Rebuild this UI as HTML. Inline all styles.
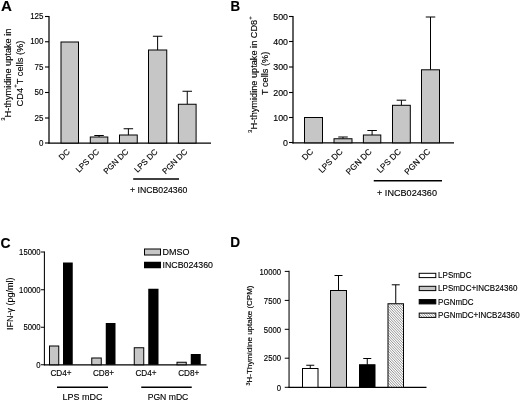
<!DOCTYPE html>
<html><head><meta charset="utf-8"><title>Figure</title>
<style>
html,body{margin:0;padding:0;background:#fff;}
body{width:520px;height:401px;overflow:hidden;}
svg{display:block;font-family:"Liberation Sans", Arial, sans-serif;fill:#000;} text{stroke:#000;stroke-width:0.14px;}
</style></head><body>
<svg width="520" height="401" viewBox="0 0 520 401">
<rect width="520" height="401" fill="#fff" stroke="none"/>
<text font-size="14.8" text-anchor="start" font-weight="bold" transform="translate(0.9 10.9) scale(1.02 1)">A</text>
<line x1="49" y1="16" x2="49" y2="143.62" stroke="#000" stroke-width="1.25"/>
<line x1="48.38" y1="143" x2="211" y2="143" stroke="#000" stroke-width="1.25"/>
<line x1="45" y1="16.5" x2="49" y2="16.5" stroke="#000" stroke-width="1.1"/>
<text font-size="9.4" text-anchor="end" transform="translate(43.5 19.2) scale(0.85 1)">125</text>
<line x1="45" y1="41.75" x2="49" y2="41.75" stroke="#000" stroke-width="1.1"/>
<text font-size="9.4" text-anchor="end" transform="translate(43.5 44.45) scale(0.85 1)">100</text>
<line x1="45" y1="67" x2="49" y2="67" stroke="#000" stroke-width="1.1"/>
<text font-size="9.4" text-anchor="end" transform="translate(43.5 69.7) scale(0.85 1)">75</text>
<line x1="45" y1="92.5" x2="49" y2="92.5" stroke="#000" stroke-width="1.1"/>
<text font-size="9.4" text-anchor="end" transform="translate(43.5 95.2) scale(0.85 1)">50</text>
<line x1="45" y1="118" x2="49" y2="118" stroke="#000" stroke-width="1.1"/>
<text font-size="9.4" text-anchor="end" transform="translate(43.5 120.7) scale(0.85 1)">25</text>
<line x1="45" y1="143" x2="49" y2="143" stroke="#000" stroke-width="1.1"/>
<text font-size="9.4" text-anchor="end" transform="translate(43.5 145.7) scale(0.85 1)">0</text>
<rect x="61" y="42" width="17.5" height="101" fill="#c6c6c6" stroke="#000" stroke-width="1"/>
<text font-size="8.1" text-anchor="end" transform="translate(70.35 152.3) rotate(-45)">DC</text>
<line x1="99.05" y1="135.5" x2="99.05" y2="137" stroke="#000" stroke-width="1"/>
<line x1="94.3" y1="135.5" x2="103.8" y2="135.5" stroke="#000" stroke-width="1"/>
<rect x="90.3" y="137" width="17.5" height="6" fill="#c6c6c6" stroke="#000" stroke-width="1"/>
<text font-size="8.1" text-anchor="end" transform="translate(99.65 152.3) rotate(-45)">LPS DC</text>
<line x1="128.38" y1="128.75" x2="128.38" y2="135" stroke="#000" stroke-width="1"/>
<line x1="123.62" y1="128.75" x2="133.12" y2="128.75" stroke="#000" stroke-width="1"/>
<rect x="119.5" y="135" width="17.75" height="8" fill="#c6c6c6" stroke="#000" stroke-width="1"/>
<text font-size="8.1" text-anchor="end" transform="translate(128.97 152.3) rotate(-45)">PGN DC</text>
<line x1="157.62" y1="36.25" x2="157.62" y2="50" stroke="#000" stroke-width="1"/>
<line x1="152.88" y1="36.25" x2="162.38" y2="36.25" stroke="#000" stroke-width="1"/>
<rect x="148.5" y="50" width="18.25" height="93" fill="#c6c6c6" stroke="#000" stroke-width="1"/>
<text font-size="8.1" text-anchor="end" transform="translate(158.22 152.3) rotate(-45)">LPS DC</text>
<line x1="187.25" y1="91.25" x2="187.25" y2="104.25" stroke="#000" stroke-width="1"/>
<line x1="182.5" y1="91.25" x2="192" y2="91.25" stroke="#000" stroke-width="1"/>
<rect x="178.4" y="104.25" width="17.7" height="38.75" fill="#c6c6c6" stroke="#000" stroke-width="1"/>
<text font-size="8.1" text-anchor="end" transform="translate(187.85 152.3) rotate(-45)">PGN DC</text>
<line x1="133.2" y1="179" x2="179" y2="179" stroke="#000" stroke-width="1.6"/>
<text font-size="9.8" text-anchor="middle" transform="translate(158.7 193) scale(0.89 1)">+ INCB024360</text>
<text font-size="9.2" text-anchor="middle" transform="translate(10.5 74.7) rotate(-90)"><tspan font-size="6" dy="-5.5">3</tspan><tspan dy="5.5">H-thymidine uptake in</tspan></text>
<text font-size="9.3" text-anchor="middle" transform="translate(22.8 73.5) rotate(-90)">CD4<tspan font-size="6" dy="-5.5">+</tspan><tspan dy="5.5">T cells (%)</tspan></text>
<text font-size="14.8" text-anchor="start" font-weight="bold" transform="translate(230.6 10.9) scale(0.9 1)">B</text>
<line x1="293" y1="16" x2="293" y2="143.43" stroke="#000" stroke-width="1.25"/>
<line x1="292.38" y1="142.8" x2="454" y2="142.8" stroke="#000" stroke-width="1.25"/>
<line x1="289" y1="16.5" x2="293" y2="16.5" stroke="#000" stroke-width="1.1"/>
<text font-size="9" text-anchor="end" transform="translate(288 19.5) scale(0.98 1)">500</text>
<line x1="289" y1="41.5" x2="293" y2="41.5" stroke="#000" stroke-width="1.1"/>
<text font-size="9" text-anchor="end" transform="translate(288 44.5) scale(0.98 1)">400</text>
<line x1="289" y1="67" x2="293" y2="67" stroke="#000" stroke-width="1.1"/>
<text font-size="9" text-anchor="end" transform="translate(288 70) scale(0.98 1)">300</text>
<line x1="289" y1="92.5" x2="293" y2="92.5" stroke="#000" stroke-width="1.1"/>
<text font-size="9" text-anchor="end" transform="translate(288 95.5) scale(0.98 1)">200</text>
<line x1="289" y1="117.5" x2="293" y2="117.5" stroke="#000" stroke-width="1.1"/>
<text font-size="9" text-anchor="end" transform="translate(288 120.5) scale(0.98 1)">100</text>
<line x1="289" y1="142.5" x2="293" y2="142.5" stroke="#000" stroke-width="1.1"/>
<text font-size="9" text-anchor="end" transform="translate(288 145.5) scale(0.98 1)">0</text>
<rect x="304.5" y="117.5" width="18" height="25.3" fill="#c6c6c6" stroke="#000" stroke-width="1"/>
<text font-size="8.35" text-anchor="end" transform="translate(313.7 152.2) rotate(-45)">DC</text>
<line x1="343" y1="137" x2="343" y2="138.75" stroke="#000" stroke-width="1"/>
<line x1="338.25" y1="137" x2="347.75" y2="137" stroke="#000" stroke-width="1"/>
<rect x="334" y="138.75" width="18" height="4.05" fill="#c6c6c6" stroke="#000" stroke-width="1"/>
<text font-size="8.35" text-anchor="end" transform="translate(343.2 152.2) rotate(-45)">LPS DC</text>
<line x1="372.1" y1="130.5" x2="372.1" y2="135" stroke="#000" stroke-width="1"/>
<line x1="367.35" y1="130.5" x2="376.85" y2="130.5" stroke="#000" stroke-width="1"/>
<rect x="363.4" y="135" width="17.4" height="7.8" fill="#c6c6c6" stroke="#000" stroke-width="1"/>
<text font-size="8.35" text-anchor="end" transform="translate(372.3 152.2) rotate(-45)">PGN DC</text>
<line x1="401.4" y1="100.2" x2="401.4" y2="105.3" stroke="#000" stroke-width="1"/>
<line x1="396.65" y1="100.2" x2="406.15" y2="100.2" stroke="#000" stroke-width="1"/>
<rect x="392.5" y="105.3" width="17.8" height="37.5" fill="#c6c6c6" stroke="#000" stroke-width="1"/>
<text font-size="8.35" text-anchor="end" transform="translate(401.6 152.2) rotate(-45)">LPS DC</text>
<line x1="430.5" y1="17" x2="430.5" y2="69.8" stroke="#000" stroke-width="1"/>
<line x1="425.75" y1="17" x2="435.25" y2="17" stroke="#000" stroke-width="1"/>
<rect x="421.5" y="69.8" width="18" height="73" fill="#c6c6c6" stroke="#000" stroke-width="1"/>
<text font-size="8.35" text-anchor="end" transform="translate(430.7 152.2) rotate(-45)">PGN DC</text>
<line x1="373.75" y1="180.75" x2="442" y2="180.75" stroke="#000" stroke-width="1.6"/>
<text font-size="9.8" text-anchor="middle" transform="translate(407 196.3) scale(0.93 1)">+ INCB024360</text>
<text font-size="9.2" text-anchor="middle" transform="translate(257.2 74.6) rotate(-90)"><tspan font-size="6" dy="-5.5">3</tspan><tspan dy="5.5">H-thymidine uptake in CD8</tspan><tspan font-size="6" dy="-5.5">+</tspan></text>
<text font-size="9.2" text-anchor="middle" transform="translate(267.6 73.4) rotate(-90)">T cells (%)</text>
<text font-size="14.8" text-anchor="start" font-weight="bold" transform="translate(0.5 248) scale(0.94 1)">C</text>
<line x1="44.4" y1="251.5" x2="44.4" y2="365.27" stroke="#000" stroke-width="1.05"/>
<line x1="43.88" y1="364.85" x2="206.5" y2="364.85" stroke="#000" stroke-width="1.3"/>
<line x1="41" y1="252" x2="44.4" y2="252" stroke="#000" stroke-width="1.0"/>
<text font-size="8.5" text-anchor="end" transform="translate(40.6 254.8) scale(0.91 1)">15000</text>
<line x1="41" y1="289.75" x2="44.4" y2="289.75" stroke="#000" stroke-width="1.0"/>
<text font-size="8.5" text-anchor="end" transform="translate(40.6 292.55) scale(0.91 1)">10000</text>
<line x1="41" y1="327.25" x2="44.4" y2="327.25" stroke="#000" stroke-width="1.0"/>
<text font-size="8.5" text-anchor="end" transform="translate(40.6 330.05) scale(0.91 1)">5000</text>
<line x1="41" y1="364.75" x2="44.4" y2="364.75" stroke="#000" stroke-width="1.0"/>
<text font-size="8.5" text-anchor="end" transform="translate(40.6 367.55) scale(0.91 1)">0</text>
<rect x="49.5" y="346" width="9.25" height="18.75" fill="#c6c6c6" stroke="#000" stroke-width="1"/>
<rect x="63" y="262.5" width="9.75" height="102.25" fill="#000"/>
<rect x="91.75" y="358" width="9.5" height="6.75" fill="#c6c6c6" stroke="#000" stroke-width="1"/>
<rect x="105.75" y="323" width="9.75" height="41.75" fill="#000"/>
<rect x="134.25" y="347.75" width="9.5" height="17" fill="#c6c6c6" stroke="#000" stroke-width="1"/>
<rect x="148.25" y="288.75" width="10.25" height="76" fill="#000"/>
<rect x="177" y="362.25" width="9.25" height="2.5" fill="#c6c6c6" stroke="#000" stroke-width="1"/>
<rect x="190.75" y="354" width="10" height="10.75" fill="#000"/>
<text font-size="9.0" text-anchor="middle" transform="translate(61 375.6) scale(0.91 1)">CD4+</text>
<text font-size="9.0" text-anchor="middle" transform="translate(103.5 375.6) scale(0.91 1)">CD8+</text>
<text font-size="9.0" text-anchor="middle" transform="translate(146 375.6) scale(0.91 1)">CD4+</text>
<text font-size="9.0" text-anchor="middle" transform="translate(188.75 375.6) scale(0.91 1)">CD8+</text>
<line x1="57" y1="387.25" x2="108" y2="387.25" stroke="#000" stroke-width="1.6"/>
<line x1="141.25" y1="387.25" x2="191.75" y2="387.25" stroke="#000" stroke-width="1.6"/>
<text font-size="9.8" text-anchor="middle" transform="translate(82.5 400) scale(0.92 1)">LPS mDC</text>
<text font-size="9.8" text-anchor="middle" transform="translate(168 400) scale(0.88 1)">PGN mDC</text>
<text font-size="9" text-anchor="middle" transform="translate(13 303.7) rotate(-90)">IFN-γ (pg/ml)</text>
<rect x="144.5" y="249" width="16" height="6" fill="#c6c6c6" stroke="#000" stroke-width="1"/>
<text font-size="9.8" text-anchor="start" transform="translate(162.5 255.4) scale(0.92 1)">DMSO</text>
<rect x="144" y="261.75" width="17" height="6.5" fill="#000"/>
<text font-size="9.8" text-anchor="start" transform="translate(162.5 268.4) scale(0.9 1)">INCB024360</text>
<text font-size="14.8" text-anchor="start" font-weight="bold" transform="translate(230.3 247.1) scale(0.92 1)">D</text>
<line x1="289.05" y1="270.75" x2="289.05" y2="387.82" stroke="#000" stroke-width="1.05"/>
<line x1="288.53" y1="387.3" x2="426.5" y2="387.3" stroke="#000" stroke-width="1.2"/>
<line x1="284.75" y1="271.4" x2="289.05" y2="271.4" stroke="#000" stroke-width="1.0"/>
<text font-size="8.5" text-anchor="end" transform="translate(281.05 274.6) scale(0.91 1)">10000</text>
<line x1="284.75" y1="300.4" x2="289.05" y2="300.4" stroke="#000" stroke-width="1.0"/>
<text font-size="8.5" text-anchor="end" transform="translate(281.05 303.6) scale(0.91 1)">7500</text>
<line x1="284.75" y1="329.3" x2="289.05" y2="329.3" stroke="#000" stroke-width="1.0"/>
<text font-size="8.5" text-anchor="end" transform="translate(281.05 332.5) scale(0.91 1)">5000</text>
<line x1="284.75" y1="358.2" x2="289.05" y2="358.2" stroke="#000" stroke-width="1.0"/>
<text font-size="8.5" text-anchor="end" transform="translate(281.05 361.4) scale(0.91 1)">2500</text>
<line x1="284.75" y1="387.3" x2="289.05" y2="387.3" stroke="#000" stroke-width="1.0"/>
<text font-size="8.5" text-anchor="end" transform="translate(281.05 390.5) scale(0.91 1)">0</text>
<defs><filter id="hb" x="-5%" y="-5%" width="110%" height="110%"><feGaussianBlur stdDeviation="0.3"/></filter></defs>
<line x1="310.25" y1="365.25" x2="310.25" y2="368.5" stroke="#000" stroke-width="1"/>
<line x1="306.25" y1="365.25" x2="314.25" y2="365.25" stroke="#000" stroke-width="1"/>
<rect x="302.5" y="368.5" width="15.5" height="18.8" fill="#fff" stroke="#000" stroke-width="1"/>
<line x1="338.5" y1="275.5" x2="338.5" y2="290.5" stroke="#000" stroke-width="1"/>
<line x1="334.5" y1="275.5" x2="342.5" y2="275.5" stroke="#000" stroke-width="1"/>
<rect x="330.5" y="290.5" width="16" height="96.8" fill="#c6c6c6" stroke="#000" stroke-width="1"/>
<line x1="367.25" y1="358.5" x2="367.25" y2="364.75" stroke="#000" stroke-width="1"/>
<line x1="363.25" y1="358.5" x2="371.25" y2="358.5" stroke="#000" stroke-width="1"/>
<rect x="359.5" y="364.75" width="15.5" height="22.55" fill="#000" stroke="#000" stroke-width="1"/>
<line x1="395.75" y1="284.8" x2="395.75" y2="303.75" stroke="#000" stroke-width="1"/>
<line x1="391.75" y1="284.8" x2="399.75" y2="284.8" stroke="#000" stroke-width="1"/>
<clipPath id="hc1"><rect x="388" y="303.75" width="15.5" height="83.55"/></clipPath>
<rect x="388" y="303.75" width="15.5" height="83.55" fill="#fff"/>
<path d="M388 287.32L403.5 303.75M388 289.97L403.5 306.4M388 292.62L403.5 309.05M388 295.27L403.5 311.7M388 297.92L403.5 314.35M388 300.57L403.5 317M388 303.22L403.5 319.65M388 305.87L403.5 322.3M388 308.52L403.5 324.95M388 311.17L403.5 327.6M388 313.82L403.5 330.25M388 316.47L403.5 332.9M388 319.12L403.5 335.55M388 321.77L403.5 338.2M388 324.42L403.5 340.85M388 327.07L403.5 343.5M388 329.72L403.5 346.15M388 332.37L403.5 348.8M388 335.02L403.5 351.45M388 337.67L403.5 354.1M388 340.32L403.5 356.75M388 342.97L403.5 359.4M388 345.62L403.5 362.05M388 348.27L403.5 364.7M388 350.92L403.5 367.35M388 353.57L403.5 370M388 356.22L403.5 372.65M388 358.87L403.5 375.3M388 361.52L403.5 377.95M388 364.17L403.5 380.6M388 366.82L403.5 383.25M388 369.47L403.5 385.9M388 372.12L403.5 388.55M388 374.77L403.5 391.2M388 377.42L403.5 393.85M388 380.07L403.5 396.5M388 382.72L403.5 399.15M388 385.37L403.5 401.8" stroke="#666" stroke-width="0.7" fill="none" clip-path="url(#hc1)" filter="url(#hb)"/>
<rect x="388" y="303.75" width="15.5" height="83.55" fill="none" stroke="#000" stroke-width="1"/>
<text font-size="8" text-anchor="middle" transform="translate(252.4 335.5) rotate(-90)"><tspan font-size="5.5" dy="-2.5">3</tspan><tspan dy="2.5">H-Thymidine uptake (CPM)</tspan></text>
<rect x="419.2" y="273.3" width="16.6" height="4.3" fill="#fff" stroke="#000" stroke-width="1"/>
<text font-size="9" text-anchor="start" transform="translate(438.1 278.1) scale(0.89 1)">LPSmDC</text>
<rect x="419.2" y="286.3" width="16.6" height="4.3" fill="#c6c6c6" stroke="#000" stroke-width="1"/>
<text font-size="9" text-anchor="start" transform="translate(438.1 291.2) scale(0.89 1)">LPSmDC+INCB24360</text>
<rect x="419.2" y="299.6" width="16.6" height="4.3" fill="#000" stroke="#000" stroke-width="1"/>
<text font-size="9" text-anchor="start" transform="translate(438.1 304.9) scale(0.89 1)">PGNmDC</text>
<clipPath id="hc2"><rect x="419.2" y="313.1" width="16.6" height="4.3"/></clipPath>
<rect x="419.2" y="313.1" width="16.6" height="4.3" fill="#fff"/>
<path d="M419.2 295.5L435.8 313.1M419.2 298.15L435.8 315.75M419.2 300.8L435.8 318.4M419.2 303.45L435.8 321.05M419.2 306.1L435.8 323.7M419.2 308.75L435.8 326.35M419.2 311.4L435.8 329M419.2 314.05L435.8 331.65M419.2 316.7L435.8 334.3" stroke="#666" stroke-width="0.7" fill="none" clip-path="url(#hc2)" filter="url(#hb)"/>
<rect x="419.2" y="313.1" width="16.6" height="4.3" fill="none" stroke="#000" stroke-width="1"/>
<text font-size="9" text-anchor="start" transform="translate(438.1 318.3) scale(0.89 1)">PGNmDC+INCB24360</text>
</svg>
</body></html>
